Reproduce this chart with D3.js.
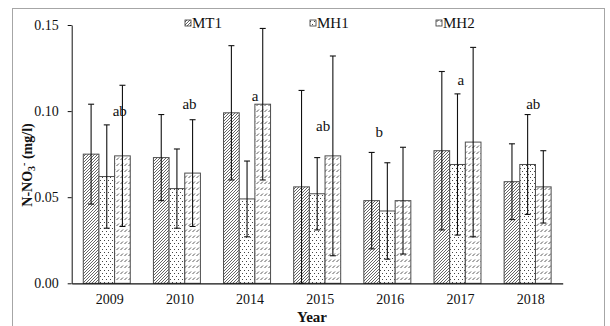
<!DOCTYPE html>
<html>
<head>
<meta charset="utf-8">
<script src="https://cdn.jsdelivr.net/npm/d3@7"></script>
<style>
  html, body { margin: 0; padding: 0; background: #fff; }
  svg { display: block; }
  text { font-family: "Liberation Serif", "Times New Roman", serif; fill: #111; }
</style>
</head>
<body>
<svg id="chart" width="610" height="326"></svg>
<script>
// Nitrate nitrogen per year and site (mean and error)
const years = ["2009", "2010", "2014", "2015", "2016", "2017", "2018"];
const seriesNames = ["MT1", "MH1", "MH2"];
const mt1 = [0.075, 0.073, 0.099, 0.056, 0.048, 0.077, 0.059];
const mt1Err = [0.029, 0.025, 0.039, 0.056, 0.028, 0.046, 0.022];
const mh1 = [0.062, 0.055, 0.049, 0.052, 0.042, 0.069, 0.069];
const mh1Err = [0.030, 0.023, 0.022, 0.021, 0.028, 0.041, 0.029];
const mh2 = [0.074, 0.064, 0.104, 0.074, 0.048, 0.082, 0.056];
const mh2Err = [0.041, 0.031, 0.044, 0.058, 0.031, 0.055, 0.021];
// significance letters and the height they sit at
const sigLetters = ["ab", "ab", "a", "ab", "b", "a", "ab"];
const sigLevel = [0.100, 0.104, 0.109, 0.0915, 0.088, 0.118, 0.104];
const yTicks = [0, 0.05, 0.10, 0.15];

const means = [mt1, mh1, mh2];
const errs = [mt1Err, mh1Err, mh2Err];

const svg = d3.select("#chart");

// outer frame
svg.append("rect")
  .attr("x", 12.5).attr("y", 8.5).attr("width", 592).attr("height", 330)
  .attr("fill", "none").attr("stroke", "#a6a6a6").attr("stroke-width", 1);

// fill patterns
const defs = svg.append("defs");
// MT1: dense forward diagonal hatch
const p1 = defs.append("pattern").attr("id", "pat-MT1")
  .attr("patternUnits", "userSpaceOnUse").attr("width", 3).attr("height", 3);
p1.append("rect").attr("width", 3).attr("height", 3).attr("fill", "#fff");
p1.append("path").attr("d", "M-1,1 L1,-1 M0,3 L3,0 M2,4 L4,2")
  .attr("stroke", "#555").attr("stroke-width", 0.9);
// MH1: sparse dots
const p2 = defs.append("pattern").attr("id", "pat-MH1")
  .attr("patternUnits", "userSpaceOnUse").attr("width", 4).attr("height", 6);
p2.append("rect").attr("width", 4).attr("height", 6).attr("fill", "#fff");
p2.append("rect").attr("x", 0).attr("y", 0).attr("width", 1).attr("height", 1).attr("fill", "#444");
p2.append("rect").attr("x", 2).attr("y", 3).attr("width", 1).attr("height", 1).attr("fill", "#444");
// MH2: short dashed diagonals in rows
const p3 = defs.append("pattern").attr("id", "pat-MH2")
  .attr("patternUnits", "userSpaceOnUse").attr("width", 4).attr("height", 6);
p3.append("rect").attr("width", 4).attr("height", 6).attr("fill", "#fff");
p3.append("path").attr("d", "M0.5,4 L3,1.5").attr("stroke", "#444").attr("stroke-width", 0.9);

const margin = { left: 71.7, right: 562.7, top: 25, bottom: 283.3 };

const x = d3.scaleBand().domain(years)
  .range([margin.left, margin.right])
  .paddingInner(0.33).paddingOuter(0.165);
const xs = d3.scaleBand().domain(seriesNames).range([0, x.bandwidth()]);
const y = d3.scaleLinear().domain([0, 0.15]).range([margin.bottom, margin.top]);

// bars
const rows = [];
years.forEach((yr, i) => {
  seriesNames.forEach((s, j) => {
    rows.push({ year: yr, series: s, value: means[j][i], err: errs[j][i] });
  });
});

svg.append("g").selectAll("rect").data(rows).join("rect")
  .attr("x", d => x(d.year) + xs(d.series))
  .attr("y", d => y(d.value))
  .attr("width", xs.bandwidth())
  .attr("height", d => y(0) - y(d.value))
  .attr("fill", d => `url(#pat-${d.series})`)
  .attr("stroke", "#4d4d4d").attr("stroke-width", 1);

// error bars
const eb = svg.append("g").attr("stroke", "#111").attr("stroke-width", 1.1);
rows.forEach(d => {
  const cx = x(d.year) + xs(d.series) + xs.bandwidth() / 2;
  const lo = y(Math.max(0, d.value - d.err));
  const hi = y(d.value + d.err);
  eb.append("line").attr("x1", cx).attr("x2", cx).attr("y1", lo).attr("y2", hi);
  eb.append("line").attr("x1", cx - 3).attr("x2", cx + 3).attr("y1", hi).attr("y2", hi);
  eb.append("line").attr("x1", cx - 3).attr("x2", cx + 3).attr("y1", lo).attr("y2", lo);
});

// significance letters
const letterShift = [13, 12.6, 8, 6, -8, 3.4, 5.6];
svg.append("g").selectAll("text").data(years).join("text")
  .attr("x", (d, i) => x(d) + x.bandwidth() / 2 + letterShift[i])
  .attr("y", (d, i) => y(sigLevel[i]))
  .attr("dy", "0.35em")
  .attr("text-anchor", "middle")
  .attr("font-size", 15)
  .text((d, i) => sigLetters[i]);

// y axis
const yAxis = svg.append("g")
  .attr("transform", `translate(${margin.left},0)`)
  .call(d3.axisLeft(y).tickValues(yTicks).tickFormat(d3.format(".2f")).tickSize(4).tickSizeOuter(0));
yAxis.select(".domain").attr("stroke", "#111");
yAxis.selectAll(".tick line").attr("stroke", "#111");
yAxis.selectAll(".tick text")
  .attr("x", -13)
  .attr("font-size", 14)
  .attr("font-family", "Liberation Serif, serif")
  .attr("fill", "#222");

// x axis
const xAxis = svg.append("g")
  .attr("transform", `translate(0,${margin.bottom})`)
  .call(d3.axisBottom(x).tickSize(0).tickSizeOuter(0));
xAxis.select(".domain").attr("stroke", "#111").attr("stroke-width", 1.2);
xAxis.selectAll(".tick text")
  .attr("y", 11)
  .attr("dx", 3)
  .attr("font-size", 14)
  .attr("font-family", "Liberation Serif, serif")
  .attr("fill", "#222");

// axis titles
svg.append("text")
  .attr("x", 312).attr("y", 322)
  .attr("text-anchor", "middle")
  .attr("font-size", 15).attr("font-weight", "bold")
  .text("Year");

const yt = svg.append("text")
  .attr("transform", "translate(32,165) rotate(-90)")
  .attr("text-anchor", "middle")
  .attr("font-size", 14).attr("font-weight", "bold");
yt.append("tspan").text("N-NO");
yt.append("tspan").attr("font-size", 10).attr("dy", 3).text("3");
yt.append("tspan").attr("font-size", 10).attr("dy", -8).text("-");
yt.append("tspan").attr("dy", 5).text(" (mg/l)");

// legend
const legendX = [185, 310, 436];
const lg = svg.append("g");
seriesNames.forEach((s, i) => {
  lg.append("rect")
    .attr("x", legendX[i]).attr("y", 20).attr("width", 6).attr("height", 6)
    .attr("fill", `url(#pat-${s})`).attr("stroke", "#333").attr("stroke-width", 0.8);
  lg.append("text")
    .attr("x", legendX[i] + 7).attr("y", 28)
    .attr("font-size", 15)
    .text(s);
});
</script>
</body>
</html>
